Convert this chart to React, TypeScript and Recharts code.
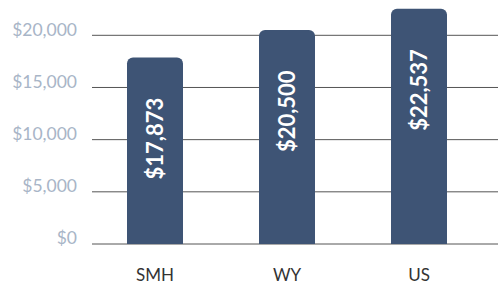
import React from "react";
import { BarChart, Bar, XAxis, YAxis, CartesianGrid, LabelList } from "recharts";

// data
const regions = ["SMH", "WY", "US"];
const spending = [17873, 20500, 22537];
const yTicks = [0, 5000, 10000, 15000, 20000];
const Y_MAX = 23000;

const chartData = regions.map((name, i) => ({ name, value: spending[i] }));

const money = (v: number) => `$${v.toLocaleString("en-US")}`;

const BAR_COLOR = "#3e5475";
const LABEL_START = 122; // distance from bar top to where the rotated label starts

const BarValueLabel = (props: any) => {
    const { x, y, width, value } = props;
    const cx = x + width / 2;
    const cy = y + LABEL_START;
    return (
        <text
            x={cx}
            y={cy}
            transform={`rotate(-90, ${cx}, ${cy})`}
            textAnchor="start"
            dominantBaseline="central"
            fill="#ffffff"
            fontFamily="Lato, sans-serif"
            fontWeight={700}
            fontSize={22}
        >
            {money(value)}
        </text>
    );
};

// only draw grid lines at the tick values (no line at the top of the plot)
const gridRows = ({ offset }: any) =>
    yTicks.map(t => offset.top + offset.height * (1 - t / Y_MAX));

const App: React.FC = () => {
    return (
        <div style={{ position: "fixed", top: 0, left: 0, width: 498, height: 284, background: "#fff" }}>
            <BarChart
                width={498}
                height={284}
                data={chartData}
                margin={{ top: 4, right: 0, left: 0, bottom: 0 }}
            >
                <CartesianGrid vertical={false} stroke="#555" horizontalCoordinatesGenerator={gridRows} />
                <XAxis
                    dataKey="name"
                    height={40}
                    tickLine={false}
                    axisLine={false}
                    tickSize={0}
                    tickMargin={25}
                    padding={{ left: -3, right: 13 }}
                    tick={{ fill: "#333", fontSize: 17, fontFamily: "Lato, sans-serif" }}
                />
                <YAxis
                    width={92}
                    domain={[0, Y_MAX]}
                    ticks={yTicks}
                    tickFormatter={money}
                    tickLine={false}
                    axisLine={false}
                    tickSize={0}
                    tickMargin={15}
                    tick={{ fill: "#a8b5c7", fontSize: 17.5, fontFamily: "Lato, sans-serif", dy: -6 }}
                />
                <Bar dataKey="value" fill={BAR_COLOR} barSize={56} radius={[6, 6, 0, 0]} isAnimationActive={false}>
                    <LabelList dataKey="value" content={BarValueLabel} />
                </Bar>
            </BarChart>
        </div>
    );
};

export default App;
